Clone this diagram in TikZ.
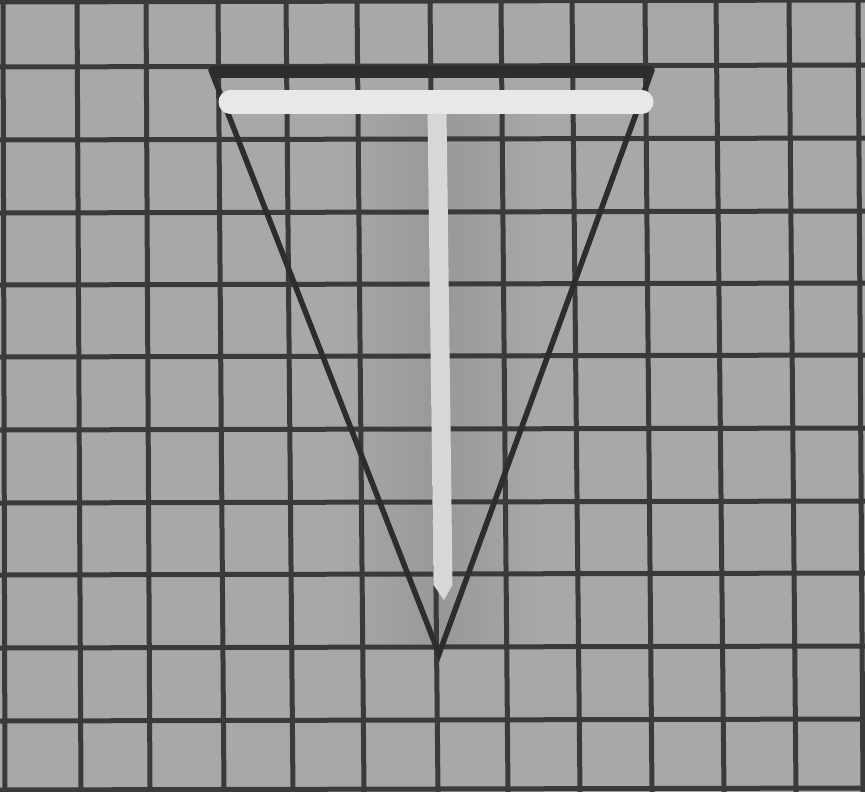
\documentclass[tikz,border=0pt]{standalone}
\begin{document}
\begin{tikzpicture}[x=1pt,y=-1pt,
  gridline/.style={draw=gridc,line width=5pt},
  triline/.style={draw=tric,line width=5.5pt,line cap=round,line join=miter},
  barline/.style={draw=barc,line width=23pt,line cap=round},
  stemline/.style={draw=stemc,line width=19pt}]
\definecolor{bgc}{RGB}{168,168,168}
\definecolor{shc}{RGB}{152,152,152}
\definecolor{gridc}{RGB}{58,58,58}
\definecolor{tric}{RGB}{45,45,45}
\definecolor{barc}{RGB}{232,232,232}
\definecolor{stemc}{RGB}{215,215,215}
\fill[bgc] (0,0) rectangle (865,792);
\useasboundingbox (0,0) rectangle (865,792);
% soft shadow around the T
\shade[left color=bgc,right color=bgc,middle color=shc] (340,112) rectangle (540,648);
% horizontal grid lines
\foreach \y in {2,67,140,213,285,357,430,503,575,648,721,790}
  \draw[gridline] (0,\y) -- (865,\y-2);
% vertical grid lines (slightly skewed)
\foreach \a/\b in {3/5,77/81,146/150,218/224,286/293,357/364,430/438,501/508,572/580,645/652,716/724,789/796,858/863}
  \draw[gridline] (\a,0) -- (\b,792);
% triangle
\coordinate (tl) at (211,70);
\coordinate (tr) at (652,70);
\coordinate (ap) at (439,654);
\draw[triline] (tl) -- (ap) -- (tr);
\draw[draw=tric,line width=12pt] ([yshift=-2pt]tl) -- ([yshift=-2pt]tr);
% T shape
\coordinate (bl) at (230,102);
\coordinate (br) at (642,102);
\coordinate (st) at (437,110);
\coordinate (sb) at (443,585);
\draw[stemline] (st) -- (sb);
\fill[stemc] (433.5,585) -- (452.5,585) -- (444,600) -- cycle;
\draw[barline] (bl) -- (br);
\end{tikzpicture}
\end{document}
